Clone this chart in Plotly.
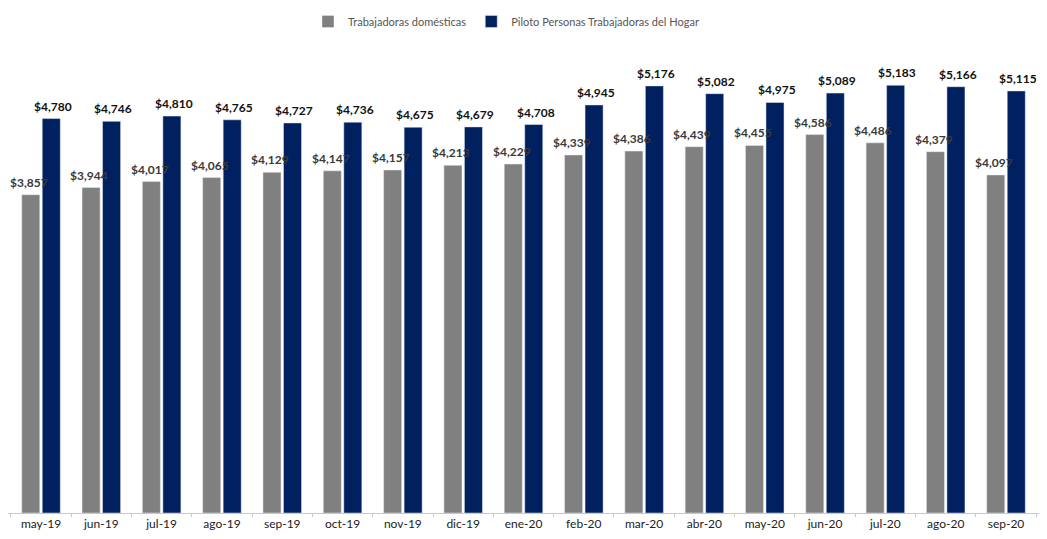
import plotly.graph_objects as go

meses = ["may-19", "jun-19", "jul-19", "ago-19", "sep-19", "oct-19", "nov-19", "dic-19",
         "ene-20", "feb-20", "mar-20", "abr-20", "may-20", "jun-20", "jul-20", "ago-20", "sep-20"]
domesticas = [3857, 3944, 4017, 4065, 4129, 4147, 4157, 4213, 4229, 4339, 4386, 4439,
              4455, 4586, 4486, 4379, 4097]
piloto = [4780, 4746, 4810, 4765, 4727, 4736, 4675, 4679, 4708, 4945, 5176, 5082,
          4975, 5089, 5183, 5166, 5115]

FONT = "Lato, Roboto, Arial"


def money(v):
    return "${:,}".format(v)


fig = go.Figure()
fig.add_trace(go.Bar(x=meses, y=domesticas, name="Trabajadoras domésticas",
                     marker_color="#808080"))
fig.add_trace(go.Bar(x=meses, y=piloto, name="Piloto Personas Trabajadoras del Hogar",
                     marker_color="#002060"))

# etiquetas encima de las barras (annotations para que no las tape la barra vecina)
for mes, g, p in zip(meses, domesticas, piloto):
    fig.add_annotation(x=mes, y=g, text=money(g), showarrow=False, yanchor="bottom",
                       xshift=-12, yshift=3,
                       font=dict(size=12, color="#3a3a3a", family=FONT, weight="bold"))
    fig.add_annotation(x=mes, y=p, text=money(p), showarrow=False, yanchor="bottom",
                       xshift=12, yshift=3,
                       font=dict(size=12, color="#111111", family=FONT, weight="bold"))

fig.update_layout(
    width=1047, height=539,
    paper_bgcolor="white", plot_bgcolor="white",
    barmode="group", bargap=0.32, bargroupgap=0.12,
    margin=dict(l=0, r=16, t=33, b=34, autoexpand=False),
    font=dict(family=FONT, size=12, color="#222222"),
    legend=dict(orientation="h", x=0.483, xanchor="center", y=0.975, yref="container",
                yanchor="middle", font=dict(size=11, color="#555555"), itemwidth=30,
                traceorder="normal"),
    showlegend=True,
)
fig.update_yaxes(visible=False, range=[0, 5720])
fig.update_xaxes(showline=True, linecolor="#c8c8c8", ticks="outside", automargin=False,
                 tickcolor="#c8c8c8", ticklen=3, tickson="boundaries",
                 tickfont=dict(size=12, color="#222222"))
fig.write_html("out.html")
